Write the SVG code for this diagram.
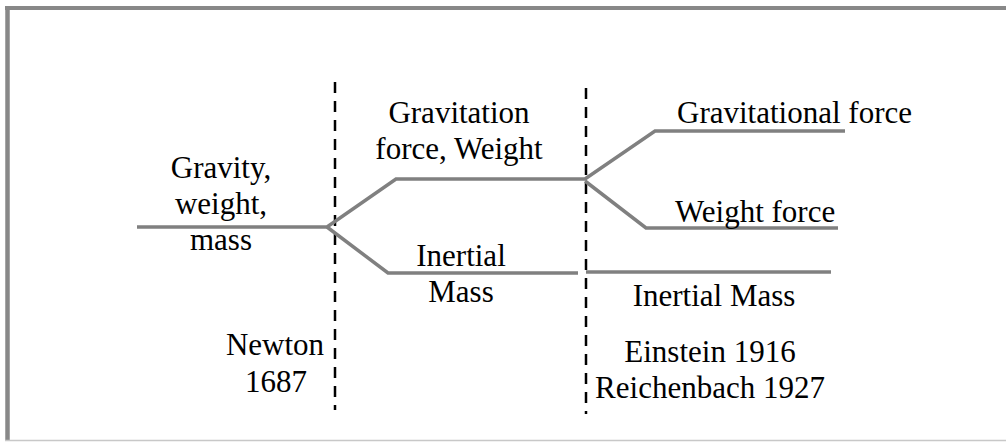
<svg xmlns="http://www.w3.org/2000/svg" width="1006" height="443" viewBox="0 0 1006 443">
<style>
text{font-family:'Liberation Serif','DejaVu Serif',serif;font-size:31px;fill:#000}
.c{text-anchor:middle}
.br{fill:none;stroke:#808080;stroke-width:3.5;stroke-linejoin:miter}
.dash{fill:none;stroke:#000;stroke-width:2.5;stroke-dasharray:11 8}
</style>
<rect width="1006" height="443" fill="#fff"/>
<g id="frame">
<line x1="5" y1="8" x2="1006" y2="8" stroke="#888" stroke-width="4"/>
<line x1="7.5" y1="6" x2="7.5" y2="441" stroke="#888" stroke-width="4.5"/>
<line x1="5" y1="440.5" x2="1006" y2="440.5" stroke="#c8c8c8" stroke-width="1.5"/>
</g>
<g id="connectors">
<line class="dash" x1="335" y1="82" x2="335" y2="410"/>
<line class="dash" x1="586" y1="88" x2="586" y2="414"/>
<polyline class="br" points="137,227 327,227 396,179 585,179 655,131 845,131"/>
<polyline class="br" points="327,227 388,273 578,273"/>
<polyline class="br" points="585,181 646,228 838,228"/>
<line class="br" x1="586" y1="272" x2="831" y2="272"/>
</g>
<g id="n-gravity" font-family="Liberation Serif, serif">
<text class="c" x="221" y="178">Gravity,</text>
<text class="c" x="221" y="214">weight,</text>
<text class="c" x="221" y="250">mass</text>
</g>
<g id="n-gravitation">
<text class="c" x="459" y="123">Gravitation</text>
<text class="c" x="459" y="159">force, Weight</text>
</g>
<g id="n-inertial">
<text class="c" x="461" y="266">Inertial</text>
<text class="c" x="461" y="302">Mass</text>
</g>
<g id="n-gravforce">
<text x="677" y="123">Gravitational force</text>
</g>
<g id="n-weightforce">
<text x="675" y="222">Weight force</text>
</g>
<g id="n-inertialmass">
<text class="c" x="714" y="306">Inertial Mass</text>
</g>
<g id="n-newton">
<text class="c" x="275" y="355">Newton</text>
<text class="c" x="276" y="392">1687</text>
</g>
<g id="n-einstein">
<text class="c" x="710" y="362">Einstein 1916</text>
<text class="c" x="710" y="398">Reichenbach 1927</text>
</g>
</svg>
